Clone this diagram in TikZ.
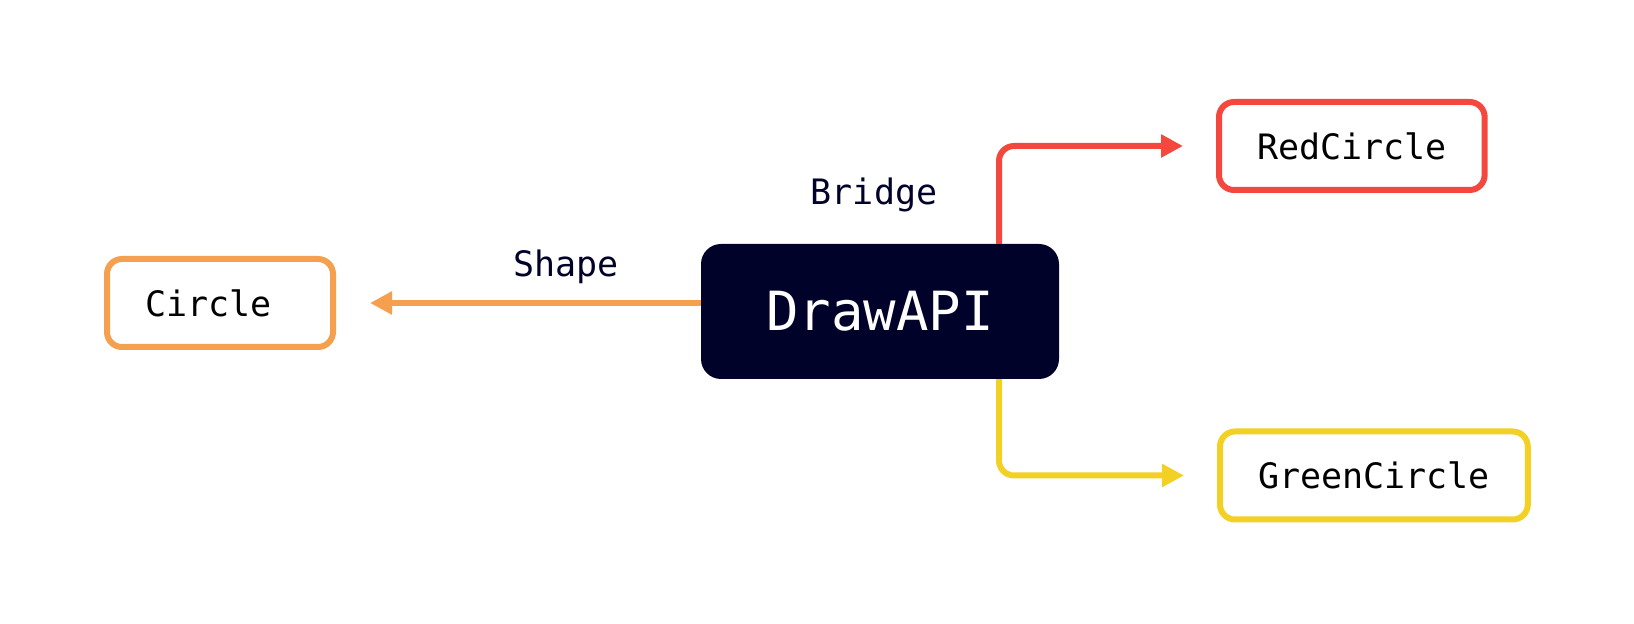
\documentclass[tikz,border=0pt]{standalone}
\usepackage{fontspec}
\setmonofont{DejaVu Sans Mono}
\usepackage{tikz}
\usetikzlibrary{arrows.meta, positioning}
\definecolor{apinavy}{HTML}{00022A}
\definecolor{shapeorange}{HTML}{F5A04E}
\definecolor{bridgered}{HTML}{F4483E}
\definecolor{bridgeyellow}{HTML}{F2D024}
\tikzset{
  impl/.style={draw, rounded corners=15pt, line width=6pt, inner xsep=38pt,
               minimum height=88pt, align=left, text=black,
               font=\ttfamily\fontsize{35}{42}\selectfont},
  link/.style={line width=6pt, rounded corners=15pt,
               -{Triangle[length=22pt,width=22pt]}},
  tag/.style={anchor=base, text=apinavy, font=\ttfamily\fontsize{35}{42}\selectfont}
}

\begin{document}
\begin{tikzpicture}[x=1pt, y=1pt]
  \useasboundingbox (0,0) rectangle (1634,624);
  \node[fill=apinavy, text=white, rounded corners=20pt, minimum width=358pt,
        minimum height=135pt, font=\ttfamily\fontsize{54}{60}\selectfont]
        (api) at (880,312.5) {DrawAPI};
  \node[impl, draw=shapeorange, text width=150pt] (circ) at (220,321) {Circle};
  \node[impl, draw=bridgered, anchor=west] (red) at (1216,478) {RedCircle};
  \node[impl, draw=bridgeyellow, anchor=west] (green) at (1217,148.5) {GreenCircle};

  \node[tag] (shapetag) at (566,347) {Shape};
  \node[tag] (bridgetag) at (874,419) {Bridge};

  \draw[link, color=shapeorange, shorten >=34pt] (api.west |- circ.east) -- (circ.east);
  \draw[link, color=bridgered, shorten >=33pt] ([xshift=119pt]api.north) |- (red.west);
  \draw[link, color=bridgeyellow, shorten >=33pt] ([xshift=119pt]api.south) |- (green.west);
\end{tikzpicture}
\end{document}
